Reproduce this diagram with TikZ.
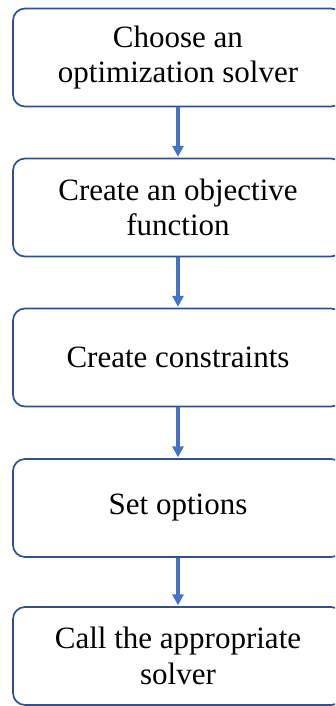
\documentclass[tikz,border=0pt]{standalone}
\usepackage{fontspec}
\setmainfont{Liberation Serif}
\usetikzlibrary{arrows.meta}
\definecolor{boxline}{HTML}{2F528F}
\definecolor{flow}{HTML}{4472C4}
\begin{document}
\begin{tikzpicture}[x=1pt,y=1pt,
  stepbox/.style={draw=boxline, line width=1.7pt, rounded corners=12pt,
    minimum width=330pt, minimum height=98pt, inner sep=0pt, align=center,
    font=\fontsize{31}{35.5}\selectfont, text=black},
  flowarrow/.style={draw=flow, line width=3.4pt,
    -{Triangle[length=11pt,width=11pt]}, shorten >=0.8pt}]
  \useasboundingbox (0,0) rectangle (335,-706);
  \clip (0,0) rectangle (335,-706);
  \node[stepbox] (s1) at (178,-57.5) {Choose an\\optimization solver};
  \node[stepbox] (s2) at (178,-207.5) {Create an objective\\function};
  \node[stepbox] (s3) at (178,-357.5) {Create constraints};
  \node[stepbox] (s4) at (178,-508) {Set options};
  \node[stepbox] (s5) at (178,-656) {Call the appropriate\\solver};
  \draw[flowarrow] (s1.south) -- (s2.north);
  \draw[flowarrow] (s2.south) -- (s3.north);
  \draw[flowarrow] (s3.south) -- (s4.north);
  \draw[flowarrow] (s4.south) -- (s5.north);
\end{tikzpicture}
\end{document}
